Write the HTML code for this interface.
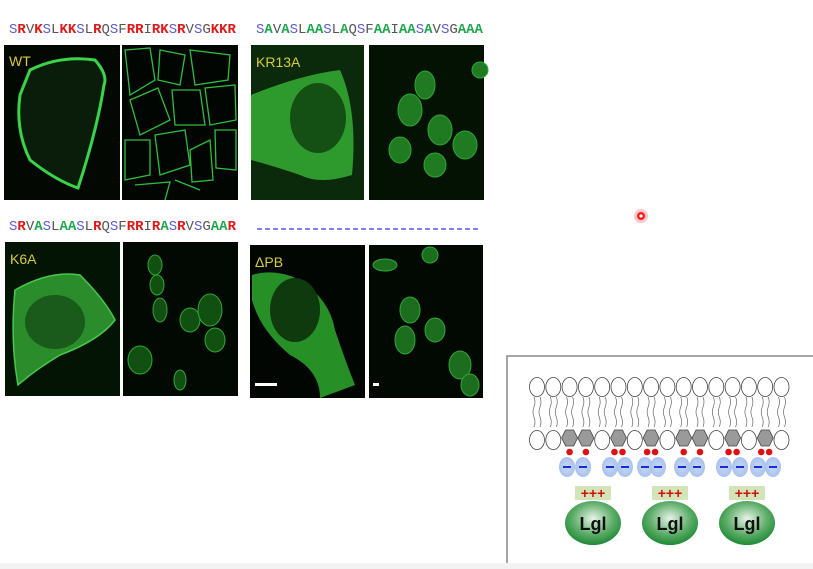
<!DOCTYPE html>
<html><head><meta charset="utf-8">
<style>
html,body{margin:0;padding:0;background:#fff;}
body{width:813px;height:569px;position:relative;overflow:hidden;font-family:"Liberation Sans",sans-serif;}
.seq{position:absolute;font-family:"Liberation Mono",monospace;font-size:14px;letter-spacing:0px;white-space:nowrap;}
.b{color:#5a5ad8}.r{color:#e01818;font-weight:bold}.g{color:#555}.a{color:#1aa84a;font-weight:bold}
svg{position:absolute;left:0;top:0;}
</style></head><body>
<div class="seq" style="left:9px;top:22px"><span class="b">S</span><span class="r">R</span><span class="g">V</span><span class="r">K</span><span class="b">S</span><span class="g">L</span><span class="r">KK</span><span class="b">S</span><span class="g">L</span><span class="r">R</span><span class="g">Q</span><span class="b">S</span><span class="g">F</span><span class="r">RR</span><span class="g">I</span><span class="r">RK</span><span class="b">S</span><span class="r">R</span><span class="g">V</span><span class="b">S</span><span class="g">G</span><span class="r">KKR</span></div>
<div class="seq" style="left:256px;top:22px"><span class="b">S</span><span class="a">A</span><span class="g">V</span><span class="a">A</span><span class="b">S</span><span class="g">L</span><span class="a">AA</span><span class="b">S</span><span class="g">L</span><span class="a">A</span><span class="g">Q</span><span class="b">S</span><span class="g">F</span><span class="a">AA</span><span class="g">I</span><span class="a">AA</span><span class="b">S</span><span class="a">A</span><span class="g">V</span><span class="b">S</span><span class="g">G</span><span class="a">AAA</span></div>
<div class="seq" style="left:9px;top:219px"><span class="b">S</span><span class="r">R</span><span class="g">V</span><span class="a">A</span><span class="b">S</span><span class="g">L</span><span class="a">AA</span><span class="b">S</span><span class="g">L</span><span class="r">R</span><span class="g">Q</span><span class="b">S</span><span class="g">F</span><span class="r">RR</span><span class="g">I</span><span class="r">R</span><span class="a">A</span><span class="b">S</span><span class="r">R</span><span class="g">V</span><span class="b">S</span><span class="g">G</span><span class="a">AA</span><span class="r">R</span></div>
<svg width="813" height="569" viewBox="0 0 813 569">
<defs>
<radialGradient id="lgl" cx="50%" cy="40%" r="60%"><stop offset="0" stop-color="#e8f4e8"/><stop offset="0.6" stop-color="#5fae6a"/><stop offset="1" stop-color="#1e8a35"/></radialGradient>
<radialGradient id="neg" cx="50%" cy="50%" r="50%"><stop offset="0" stop-color="#c8d8f4"/><stop offset="1" stop-color="#a9c2ee"/></radialGradient>
</defs>
<line x1="257" y1="229" x2="480" y2="229" stroke="#5a5ad8" stroke-width="1.5" stroke-dasharray="5,3"/>
<g><rect x="4" y="45" width="116" height="155" fill="#030803"/>
<path d="M30 70 Q60 55 95 60 Q108 75 104 85 Q97 130 78 188 Q55 180 30 160 Q15 130 20 95 Z" fill="#0a1c0a" stroke="#39d44a" stroke-width="3"/>
<text x="9" y="66" fill="#d8cc3c" font-size="14">WT</text></g>
<g><rect x="122" y="45" width="116" height="155" fill="#020602"/>
<g fill="none" stroke="#2fbf3c" stroke-width="1.3">
<path d="M125 50 L150 48 L155 80 L130 95 Z M160 50 L185 55 L180 85 L158 80 Z M190 50 L230 55 L228 80 L195 85 Z M130 100 L158 88 L170 120 L140 135 Z M172 90 L200 90 L205 125 L175 125 Z M205 88 L235 85 L236 120 L210 125 Z M125 140 L150 140 L150 175 L125 180 Z M155 135 L185 130 L190 165 L160 175 Z M190 150 L210 140 L213 180 L192 182 Z M215 130 L236 130 L236 170 L216 168 Z M135 185 L170 182 L165 200 M175 180 L200 190"/></g></g>
<g><rect x="251" y="45" width="113" height="155" fill="#0b2a0b"/>
<path d="M251 95 Q300 75 340 70 Q358 110 352 175 Q320 185 300 175 Q270 165 251 160 Z" fill="#2e9a2e"/>
<ellipse cx="318" cy="118" rx="28" ry="35" fill="#145014"/>
<text x="256" y="67" fill="#d8cc3c" font-size="14">KR13A</text></g>
<g><rect x="369" y="45" width="115" height="155" fill="#041204"/>
<g fill="#1f7a22" stroke="#2ea834" stroke-width="1"><ellipse cx="410" cy="110" rx="12" ry="16"/><ellipse cx="440" cy="130" rx="12" ry="15"/><ellipse cx="465" cy="145" rx="12" ry="14"/><ellipse cx="400" cy="150" rx="11" ry="13"/><ellipse cx="435" cy="165" rx="11" ry="12"/><ellipse cx="480" cy="70" rx="8" ry="8"/><ellipse cx="425" cy="85" rx="10" ry="14"/></g></g>
<g><rect x="5" y="242" width="115" height="154" fill="#041404"/>
<path d="M15 290 Q50 270 80 275 Q105 300 115 320 Q100 340 60 355 Q35 370 18 385 Q10 340 15 290 Z" fill="#2a8c2a" stroke="#46c84a" stroke-width="1.5"/>
<ellipse cx="55" cy="322" rx="30" ry="27" fill="#1a5a1a"/>
<text x="10" y="264" fill="#d8cc3c" font-size="14">K6A</text></g>
<g><rect x="123" y="242" width="115" height="154" fill="#020802"/>
<g fill="#125012" stroke="#2ea834" stroke-width="1"><ellipse cx="155" cy="265" rx="7" ry="10"/><ellipse cx="157" cy="285" rx="7" ry="10"/><ellipse cx="160" cy="310" rx="7" ry="12"/><ellipse cx="190" cy="320" rx="10" ry="12"/><ellipse cx="210" cy="310" rx="12" ry="16"/><ellipse cx="215" cy="340" rx="10" ry="12"/><ellipse cx="140" cy="360" rx="12" ry="14"/><ellipse cx="180" cy="380" rx="6" ry="10"/></g></g>
<g><rect x="250" y="245" width="115" height="153" fill="#020602"/>
<path d="M252 275 Q275 268 300 280 Q330 300 335 330 Q345 360 355 385 L320 398 Q320 370 290 355 Q260 330 252 300 Z" fill="#268f26"/>
<ellipse cx="295" cy="310" rx="25" ry="32" fill="#0e3a0e"/>
<rect x="255" y="383" width="22" height="3" fill="#fff"/>
<text x="255" y="267" fill="#d8cc3c" font-size="14">ΔPB</text></g>
<g><rect x="369" y="245" width="114" height="153" fill="#020802"/>
<g fill="#1c6e1e" stroke="#2ea834" stroke-width="1"><ellipse cx="410" cy="310" rx="10" ry="13"/><ellipse cx="405" cy="340" rx="10" ry="14"/><ellipse cx="435" cy="330" rx="10" ry="12"/><ellipse cx="460" cy="365" rx="11" ry="14"/><ellipse cx="470" cy="385" rx="9" ry="11"/><ellipse cx="385" cy="265" rx="12" ry="6"/><ellipse cx="430" cy="255" rx="8" ry="8"/></g>
<rect x="373" y="383" width="6" height="3" fill="#fff"/></g>
<g><circle cx="641" cy="216" r="7" fill="#ff2020" opacity="0.25"/><circle cx="641" cy="216" r="4" fill="#f02020"/><circle cx="641" cy="216" r="1.6" fill="#fff"/></g>
<g>
<path d="M507 569 L507 356 L813 356" fill="none" stroke="#888" stroke-width="1.5"/>
<rect x="0" y="563" width="813" height="6" fill="#f2f2f2"/>
<g id="lipids"></g>
</g>
</svg>
<script>
const ns='http://www.w3.org/2000/svg';
const g=document.getElementById('lipids');
function mk(t,a){const e=document.createElementNS(ns,t);for(const k in a)e.setAttribute(k,a[k]);g.appendChild(e);return e;}
const pip=[3,4,6,8,10,11,13,15];
const dbl=[6,8,13,15];
for(let i=0;i<16;i++){
  const x=537+i*16.3;
  const h=mk('ellipse',{cx:x,cy:387,rx:7.5,ry:9.5,fill:'#fff',stroke:'#444','stroke-width':0.8});
  
  
  mk('path',{d:`M${x-3} 397 q2 5 0 10 q-2 5 0 10 q2 5 0 10 M${x+3} 397 q2 5 0 10 q-2 5 0 10 q2 5 0 10`,fill:'none',stroke:'#666','stroke-width':0.7});
  if(pip.includes(i+1)){
    const p=mk('polygon',{points:`${x-4},430 ${x+4},430 ${x+8},438 ${x+4},446 ${x-4},446 ${x-8},438`,fill:'#9a9a9a',stroke:'#444','stroke-width':0.8});
    
    
    if(dbl.includes(i+1)){mk('circle',{cx:x-4,cy:452,r:3.3,fill:'#e01010'});mk('circle',{cx:x+4,cy:452,r:3.3,fill:'#e01010'});}
    else mk('circle',{cx:x,cy:452,r:3.3,fill:'#e01010'});
  } else {
    mk('ellipse',{cx:x,cy:440,rx:7.5,ry:9.5,fill:'#fff',stroke:'#444','stroke-width':0.8});
  }
}
const negs=[567,583,610,625,645,658,682,697,724,740,758,773];
negs.forEach(x=>{
  const e=mk('ellipse',{cx:x,cy:467,rx:8,ry:10,fill:'url(#neg)'});
  
  
  mk('line',{x1:x-4,y1:467,x2:x+4,y2:467,stroke:'#1a2ad8','stroke-width':2});
});
[593,670,747].forEach(x=>{
  mk('rect',{x:x-18,y:486,width:36,height:14,fill:'#d3e4b8'});
  const t=mk('text',{x:x,y:498,'text-anchor':'middle',fill:'#d01010','font-size':14,'font-weight':'bold','font-family':'Liberation Sans'});
  t.textContent='+++';
  
  
  const e=mk('ellipse',{cx:x,cy:523,rx:28,ry:22,fill:'url(#lgl)'});
  
  
  const l=mk('text',{x:x,y:530,'text-anchor':'middle',fill:'#111','font-size':18,'font-weight':'bold','font-family':'Liberation Sans'});
  l.textContent='Lgl';
  
  
});
</script>
</body></html>
